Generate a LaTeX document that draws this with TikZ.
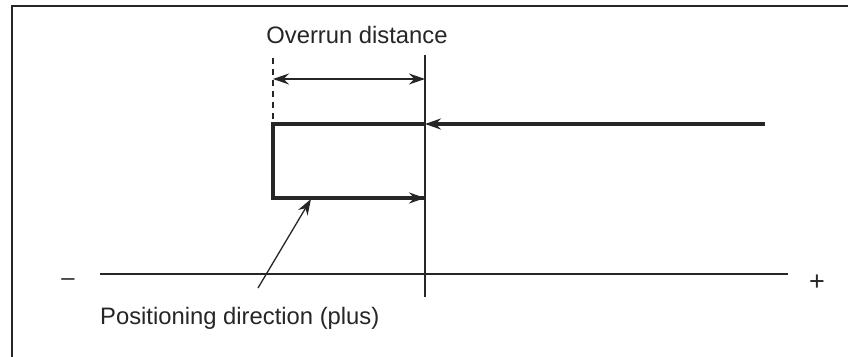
\documentclass[tikz,border=0pt]{standalone}
\usepackage{fontspec}
\setmainfont{Liberation Sans}
\usetikzlibrary{arrows.meta}
\begin{document}
\begin{tikzpicture}[x=1pt,y=1pt,
  thin line/.style={line width=1.3pt, draw=black!85},
  thick line/.style={line width=3.2pt, draw=black!85},
  tip/.style={-{Stealth[length=16pt,width=11pt]}},
  lbl/.style={font=\fontsize{23.8}{28}\selectfont, text=black!85, inner sep=0pt}]
\useasboundingbox (0,0) rectangle (848,356);
\clip (0,0) rectangle (848,356);
\fill[white] (0,0) rectangle (848,356);
\draw[line width=2.2pt, draw=black!85] (12,-20) rectangle (870,350);
% coordinates
\coordinate (dtop) at (273,298);
\coordinate (dbot) at (273,234);
\coordinate (vtop) at (425,301);
\coordinate (vbot) at (425,59);
\coordinate (aL) at (273,277);
\coordinate (aR) at (425,277);
\coordinate (tR) at (765,232);
\coordinate (tM) at (425,232);
\coordinate (tL) at (273,232);
\coordinate (bL) at (273,158);
\coordinate (bR) at (425,158);
\coordinate (xL) at (100,82);
\coordinate (xR) at (788,82);
\coordinate (ldr) at (258,68);
\coordinate (ldrtip) at (311,157);
% labels
\node[lbl] (over) at (357,321) {Overrun distance};
\node[lbl, anchor=west] (pos) at (100,38) {Positioning direction (plus)};
\node[lbl] (minus) at (68,74) {–};
\node[lbl, font=\fontsize{27}{30}\selectfont] (plus) at (817,73) {+};
% lines
\draw[thin line, dashed, dash pattern=on 6pt off 5pt] (dtop) -- (dbot);
\draw[thin line] (vtop) -- (vbot);
\draw[thin line, {Stealth[length=16pt,width=11pt]}-{Stealth[length=16pt,width=11pt]}] (aL) -- (aR);
\draw[thin line] (xL) -- (xR);
\draw[thick line, tip] (tR) -- (tM);
\draw[thick line, line join=miter] (tM) -- (tL) -- (bL) -- (bR);
\draw[thick line, tip] (bL) -- (bR);
\draw[thin line, tip] (ldr) -- (ldrtip);
\end{tikzpicture}
\end{document}
